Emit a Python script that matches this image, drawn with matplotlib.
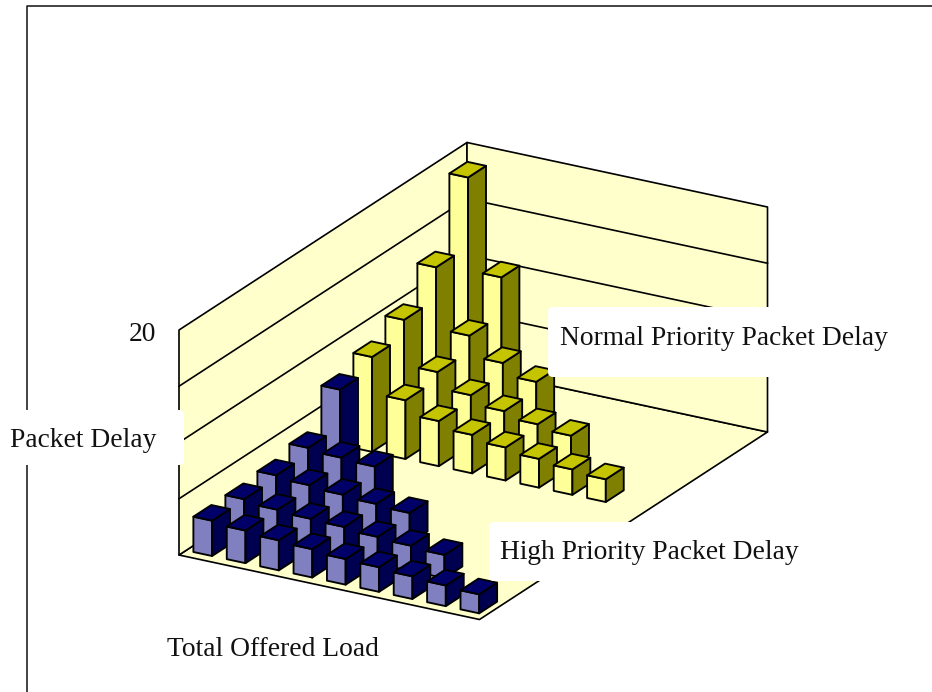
import matplotlib
matplotlib.use("Agg")
import matplotlib.pyplot as plt
from matplotlib.patches import Polygon, FancyBboxPatch

# delay per grid cell, one list per depth row, front row first
high_rows = [
    [3.14, 2.90, 2.67, 2.52, 2.28, 2.19, 2.01, 1.84, 1.69],
    [3.20, 2.90, 2.73, 2.64, 2.40, 2.25, 2.07],
    [3.47, 3.23, 3.02, 2.84, 2.67],
    [4.06, 3.82, 3.67],
    [7.38],
]
normal_rows = [
    [8.43, 5.22, 4.01, 3.42, 2.94, 2.56, 2.26, 2.02],
    [9.88, 5.88, 4.46, 3.68, 3.15, 2.77],
    [12.7, 7.26, 5.47, 4.43],
    [18.83, 10.59],
]
high_first_row = 0
normal_first_row = 5
grid_ticks = [5, 10, 15]
z_max = 20
n_cells = 9

# floor corner and axis vectors of the oblique view, in figure pixels
origin = (179.0, 555.0)
x_vec = (300.5, 64.5)
y_vec = (288.0, -187.5)
z_vec = -225.0
bar_frac = 0.56

wall_color = "#FFFFCC"
line_color = "#000000"
high_colors = ("#8080C0", "#000068", "#000050")  # front, top, side
normal_colors = ("#FFFF99", "#C4C400", "#808000")


def project(x, y, z=0.0):
    # x, y in grid cells, z in delay units
    px = origin[0] + x_vec[0] * x / n_cells + y_vec[0] * y / n_cells
    py = origin[1] + x_vec[1] * x / n_cells + y_vec[1] * y / n_cells + z_vec * z / z_max
    return (px, py)


def addFace(ax, corners, color, zorder, lw=1.35):
    ax.add_patch(Polygon(corners, closed=True, facecolor=color, edgecolor=line_color,
                         linewidth=lw, joinstyle="round", zorder=zorder))


def drawBar(ax, c, r, h, colors, zorder):
    gap = (1 - bar_frac) / 2
    x0, x1 = c + gap, c + gap + bar_frac
    y0, y1 = r + gap, r + gap + bar_frac
    addFace(ax, [project(x0, y0), project(x1, y0), project(x1, y0, h), project(x0, y0, h)], colors[0], zorder)
    addFace(ax, [project(x1, y0), project(x1, y1), project(x1, y1, h), project(x1, y0, h)], colors[2], zorder)
    addFace(ax, [project(x0, y0, h), project(x1, y0, h), project(x1, y1, h), project(x0, y1, h)], colors[1], zorder)


def drawSeries(ax, rows, first_row, colors):
    for i, row in enumerate(rows):
        r = first_row + i
        for c, h in enumerate(row):
            # back rows first, then left to right, so nearer bars paint over
            drawBar(ax, c, r, h, colors, 10 + (n_cells - r) * 20 + c)


def whiteBox(ax, x, y, w, h):
    ax.add_patch(FancyBboxPatch((x + 4, y + 4), w - 8, h - 8, boxstyle="round,pad=4,rounding_size=5",
                                facecolor="white", edgecolor="none", zorder=500))


fig = plt.figure(figsize=(9.32, 6.92), dpi=100)
ax = fig.add_axes([0, 0, 1, 1])
ax.set_xlim(0, 932)
ax.set_ylim(692, 0)
ax.axis("off")

# outer frame, only top and left are inside the canvas
ax.plot([26.5, 26.5, 932], [692, 5.8, 5.8], color="#222222", lw=1.2, zorder=1)

# floor and the two walls
addFace(ax, [project(0, 0), project(n_cells, 0), project(n_cells, n_cells), project(0, n_cells)], wall_color, 2, 1.2)
addFace(ax, [project(0, 0), project(0, n_cells), project(0, n_cells, z_max), project(0, 0, z_max)], wall_color, 2, 1.2)
addFace(ax, [project(0, n_cells), project(n_cells, n_cells), project(n_cells, n_cells, z_max), project(0, n_cells, z_max)], wall_color, 2, 1.2)

for z in grid_ticks:
    a = project(0, 0, z)
    b = project(0, n_cells, z)
    d = project(n_cells, n_cells, z)
    ax.plot([a[0], b[0], d[0]], [a[1], b[1], d[1]], color=line_color, lw=1.2, zorder=3)

drawSeries(ax, normal_rows, normal_first_row, normal_colors)
drawSeries(ax, high_rows, high_first_row, high_colors)

# label backings hide whatever runs behind them
whiteBox(ax, -20, 410, 204, 55)
whiteBox(ax, 548, 307, 370, 70)
whiteBox(ax, 489, 522, 330, 59)

font = "Liberation Serif"
fs = 19.8
ax.text(156, 341, "20", family=font, fontsize=fs, ha="right", va="baseline", color="#111111", zorder=510)
ax.text(10, 447, "Packet Delay", family=font, fontsize=fs, ha="left", va="baseline", color="#111111", zorder=510)
ax.text(560, 345, "Normal Priority Packet Delay", family=font, fontsize=fs, ha="left", va="baseline", color="#111111", zorder=510)
ax.text(500, 559, "High Priority Packet Delay", family=font, fontsize=fs, ha="left", va="baseline", color="#111111", zorder=510)
ax.text(167, 656, "Total Offered Load", family=font, fontsize=fs, ha="left", va="baseline", color="#111111", zorder=510)

fig.savefig("out.png", dpi=100)
